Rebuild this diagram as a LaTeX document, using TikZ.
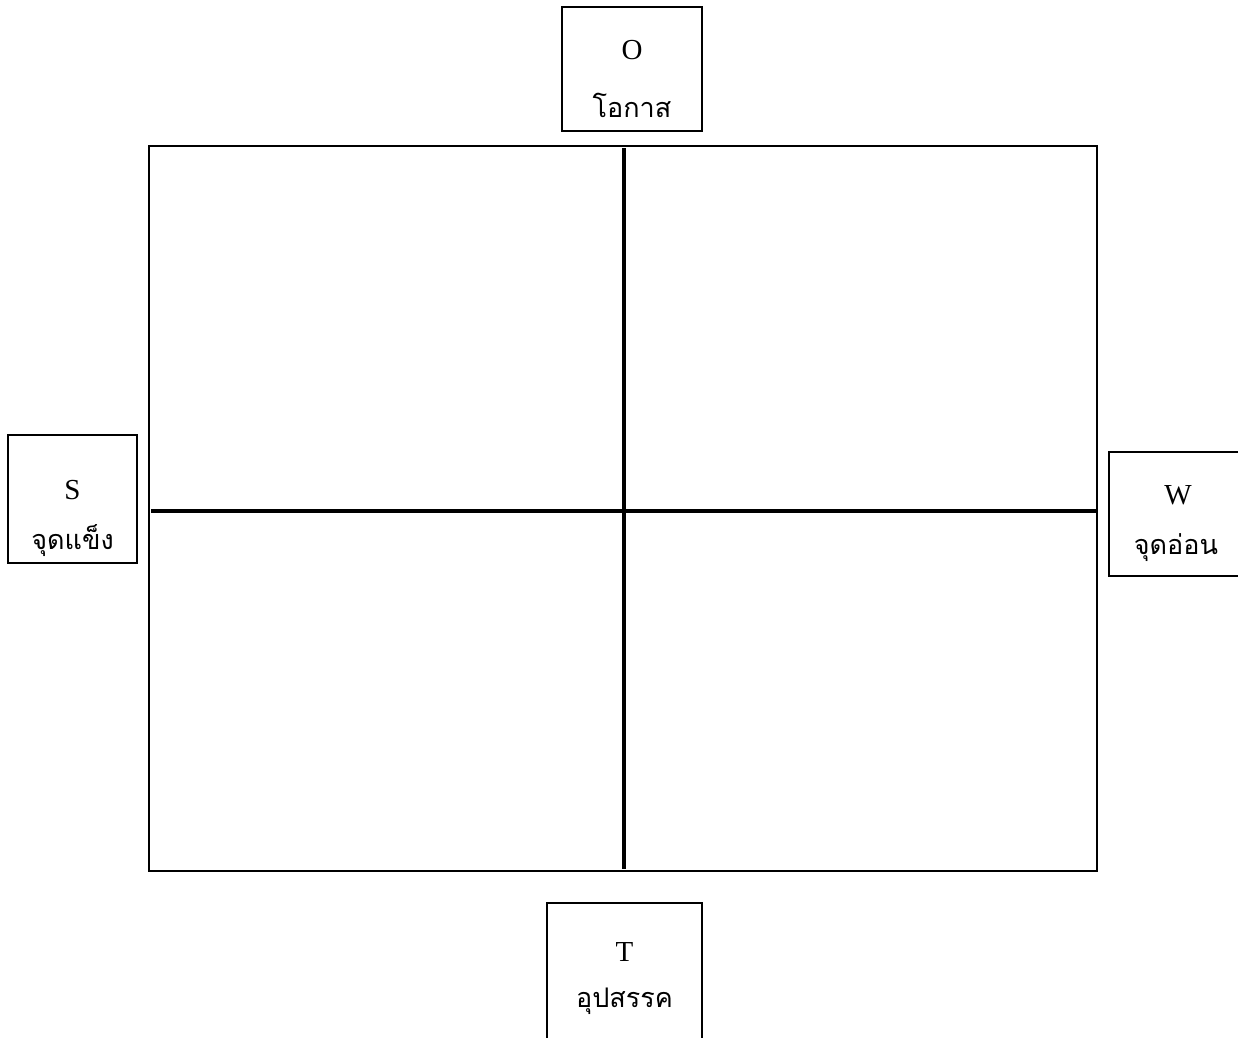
\documentclass[tikz,border=0pt]{standalone}
\usepackage{fontspec}
\setmainfont{Liberation Serif}
\newfontfamily\thaifont[Script=Thai]{Loma}
\tikzset{
  x=1pt, y=-1pt,
  box/.style={draw, line width=1.8pt, inner sep=0pt},
  latin/.style={font=\fontsize{29}{34}\selectfont, inner sep=0pt},
  thai/.style={font=\thaifont\fontsize{27}{32}\selectfont, inner sep=0pt},
  grid/.style={draw, line width=2.2pt, inner sep=0pt},
  divider/.style={line width=3.4pt}
}
\begin{document}
\begin{tikzpicture}
\useasboundingbox (0,0) rectangle (1238,1037);
\clip (0,0) rectangle (1238,1037);
% main grid
\node[grid, minimum width=948pt, minimum height=725pt] (G) at (623,508.5) {};
\coordinate (vt) at (624,148);
\coordinate (vb) at (624,869);
\coordinate (hl) at (151,511);
\coordinate (hr) at (1096,511);
\draw[divider] (vt) -- (vb);
\draw[divider] (hl) -- (hr);
% O box
\node[box, minimum width=140pt, minimum height=124pt] (Obox) at (632,69) {};
\node[latin] (Ol) at (632,50) {O};
\node[thai] (Ot) at (632,105) {โอกาส};
% S box
\node[box, minimum width=129pt, minimum height=128pt] (Sbox) at (72.5,499) {};
\node[latin] (Sl) at (72.5,490) {S};
\node[thai] (St) at (72.5,541) {จุดแข็ง};
% W box
\node[box, minimum width=137pt, minimum height=124pt] (Wbox) at (1177.5,514) {};
\node[latin] (Wl) at (1178,495) {W};
\node[thai] (Wt) at (1176,548) {จุดอ่อน};
% T box
\node[box, minimum width=155pt, minimum height=160pt] (Tbox) at (624.5,983) {};
\node[latin] (Tl) at (624.5,952) {T};
\node[thai] (Tt) at (624.5,1001) {อุปสรรค};
\end{tikzpicture}
\end{document}
